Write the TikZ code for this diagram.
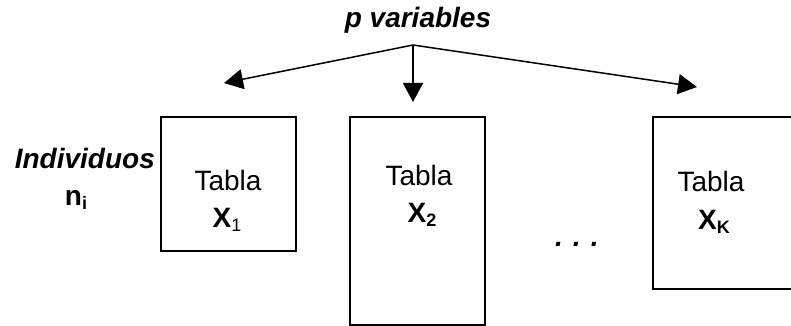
\documentclass[tikz,border=0pt]{standalone}
\usepackage{fontspec}
\setmainfont{Liberation Sans}
\usetikzlibrary{arrows.meta}
\newcommand{\subidx}[1]{\raisebox{-0.3ex}{\fontsize{18}{18}\selectfont #1}}

\begin{document}
\begin{tikzpicture}[
        x=1pt, y=-1pt,
        every node/.style={font=\fontsize{28}{33}\selectfont},
        tabla/.style={draw, line width=1.5pt, inner sep=0pt},
        txt/.style={inner sep=0pt, anchor=base},
        arrow/.style={-{Triangle[length=19pt,width=20pt]}, line width=1.5pt}
    ]
    \useasboundingbox (0,0) rectangle (791,326);
    % header and the three arrows
    \node[txt] (pvar) at (418,28) {\textbf{\textit{p variables}}};
    \coordinate (top) at (413,45);
    \coordinate (tipa) at (224,83);
    \coordinate (tipb) at (413,102);
    \coordinate (tipc) at (697,87);
    \draw[arrow] (top) -- (tipa);
    \draw[arrow] (top) -- (tipb);
    \draw[arrow] (top) -- (tipc);
    % row label
    \node[txt, anchor=base east] (indiv) at (155,168) {\textbf{\textit{Individuos}}};
    \node[txt] (ni) at (76,205) {\textbf{n}\subidx{\textbf{i}}};
    % tables
    \node[tabla, minimum width=135pt, minimum height=134pt] (box1) at (228.5,184) {};
    \node[tabla, minimum width=135pt, minimum height=208pt] (box2) at (417.5,221) {};
    \node[tabla, minimum width=139pt, minimum height=172pt] (box3) at (722.5,203) {};
    \node[txt] (tab1) at (228,190) {Tabla};
    \node[txt] (x1) at (227,227) {\textbf{X}\subidx{1}};
    \node[txt] (tab2) at (419,185) {Tabla};
    \node[txt] (x2) at (422,222) {\textbf{X}\subidx{\textbf{2}}};
    \node[txt] (tab3) at (711,191) {Tabla};
    \node[txt] (xk) at (714,229) {\textbf{X}\subidx{\textbf{K}}};
    \node[txt, anchor=base west] (dots) at (555,246) {\textbf{\textit{.\hskip10pt.\hskip10pt.}}};
\end{tikzpicture}
\end{document}
